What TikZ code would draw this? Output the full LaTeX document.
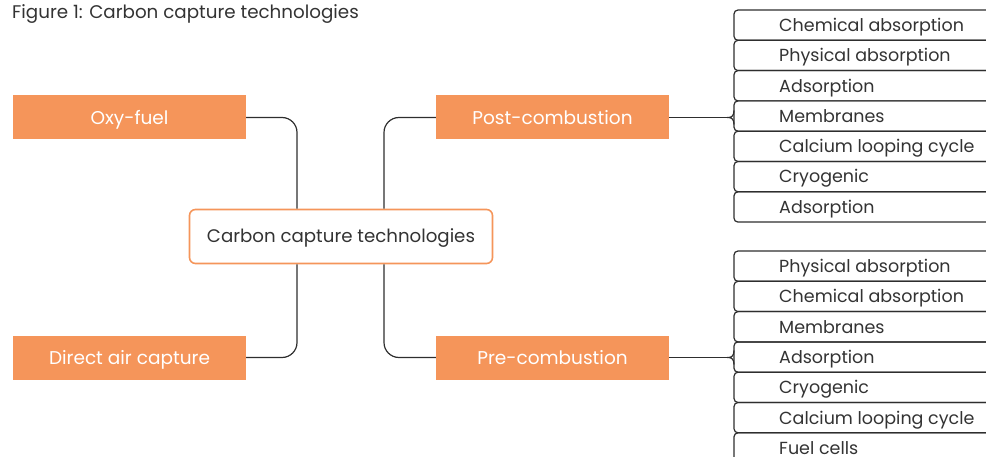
\documentclass[tikz,border=0pt]{standalone}
\usepackage{fontspec}
\setmainfont{Poppins}
\usetikzlibrary{calc}
\definecolor{orng}{HTML}{F5955A}
\definecolor{txt}{HTML}{333333}
\definecolor{lin}{HTML}{2E2E2E}
\tikzset{
  branch/.style={fill=orng, text=white, minimum width=233pt, minimum height=44pt, inner sep=0pt, text height=13.5pt, text depth=0pt, font=\fontsize{18.5}{22}\selectfont},
  rootbox/.style={draw=orng, line width=1.6pt, fill=white, rounded corners=6pt, text=txt, minimum width=303pt, minimum height=54pt, inner sep=0pt, text height=13pt, text depth=0pt, font=\fontsize{18.2}{22}\selectfont},
  conn/.style={draw=lin, line width=1.2pt},
  itemtext/.style={anchor=base west, text=txt, inner sep=0pt, font=\fontsize{17.5}{20}\selectfont},
}
\begin{document}
\begin{tikzpicture}[x=1pt,y=-1pt]
\useasboundingbox (0,0) rectangle (986,457);
\node[anchor=base west, text=txt, inner sep=0pt, font=\fontsize{18.3}{21}\selectfont] (title) at (12,19) {Figure 1: Carbon capture technologies};

\node[branch] (oxy) at (129.5,117.5) {Oxy-fuel};
\node[branch] (dac) at (129.5,357.5) {Direct air capture};
\node[branch] (post) at (552.5,117.5) {Post-combustion};
\node[branch] (pre) at (552.5,357.5) {Pre-combustion};
\node[rootbox] (root) at (341,236.5) {Carbon capture technologies};

\coordinate (lx) at (297,0);
\coordinate (rx) at (384,0);
\draw[conn, rounded corners=15pt] (oxy.east) -| (lx |- root.north);
\draw[conn, rounded corners=15pt] (post.west) -| (rx |- root.north);
\draw[conn, rounded corners=15pt] (dac.east) -| (lx |- root.south);
\draw[conn, rounded corners=15pt] (pre.west) -| (rx |- root.south);

% upper list
\foreach \t [count=\i from 0] in {Chemical absorption, Physical absorption, Adsorption, Membranes, Calcium looping cycle, Cryogenic, Adsorption}{
  \pgfmathsetmacro{\yt}{10+30.3*\i}
  \pgfmathsetmacro{\yb}{\yt+30.3}
  \draw[conn, rounded corners=4pt] (990,\yt) -- (734,\yt) -- (734,\yb) -- (990,\yb);
  \node[itemtext] (u\i) at (779,{\yt+21.5}) {\t};
}
% lower list
\foreach \t [count=\i from 0] in {Physical absorption, Chemical absorption, Membranes, Adsorption, Cryogenic, Calcium looping cycle, Fuel cells}{
  \pgfmathsetmacro{\yt}{251+30.3*\i}
  \pgfmathsetmacro{\yb}{\yt+30.3}
  \draw[conn, rounded corners=4pt] (990,\yt) -- (734,\yt) -- (734,\yb) -- (990,\yb);
  \node[itemtext] (l\i) at (779,{\yt+21.5}) {\t};
}
% braces
\coordinate (bu) at (728,117.5);
\coordinate (bl) at (728,357.5);
\draw[conn] (post.east) -- (bu);
\draw[conn] (pre.east) -- (bl);
\draw[conn] (734,110.5) .. controls (734,116.5) and (731,117.5) .. (bu) .. controls (731,117.5) and (734,118.5) .. (734,124.5);
\draw[conn] (734,350.5) .. controls (734,356.5) and (731,357.5) .. (bl) .. controls (731,357.5) and (734,358.5) .. (734,364.5);
\end{tikzpicture}
\end{document}
